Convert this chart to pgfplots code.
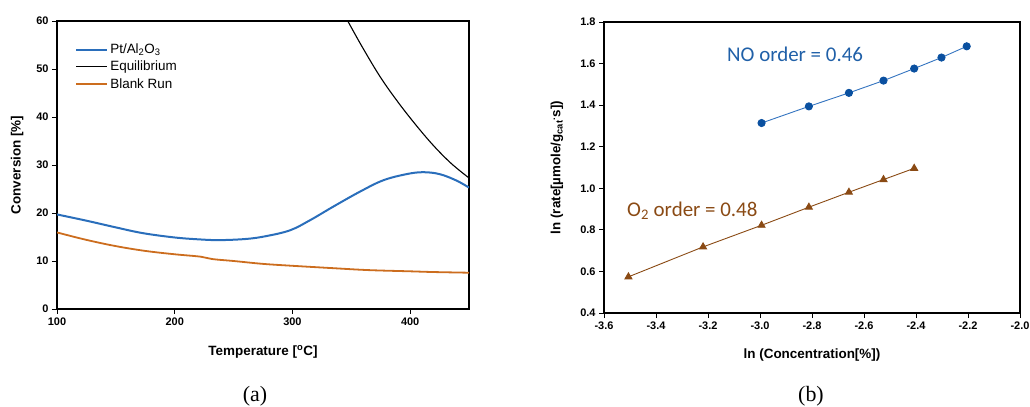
\documentclass[border=0pt]{standalone}
\usepackage{pgfplots}
\pgfplotsset{compat=1.18}
\usepackage{fontspec}
\setmainfont{Liberation Sans}
\newfontfamily\calfont{Carlito}
\newfontfamily\serfont{Liberation Serif}

\definecolor{cBlue}{HTML}{2A6EBB}
\definecolor{cOrange}{HTML}{CC6D1E}
\definecolor{cNOmark}{HTML}{0A50A0}
\definecolor{cNOline}{HTML}{3474C0}
\definecolor{cNOtext}{HTML}{2060A8}
\definecolor{cO2}{HTML}{8A4A14}

\pgfplotsset{
  panel/.style={
    scale only axis, axis line style={line width=1.1bp, black},
    tick align=outside, major tick length=5bp, tick style={black, line width=0.8bp},
    xtick pos=bottom, ytick pos=left,
    /pgf/number format/assume math mode=true,
    tick label style={font=\fontsize{11}{13}\selectfont\bfseries},
    label style={font=\fontsize{13.5}{15}\selectfont\bfseries},
  }
}

\begin{document}
\begin{tikzpicture}
\useasboundingbox (0bp,0bp) rectangle (1030bp,407bp);

% (a) conversion vs temperature
\begin{axis}[panel, at={(57bp,98bp)}, anchor=south west, width=412bp, height=288bp,
  xmin=100, xmax=450, ymin=0, ymax=60,
  xtick={100,200,300,400}, ytick={0,10,...,60},
  xlabel={Temperature [\textsuperscript{o}C]}, ylabel={Conversion [\%]},
  xlabel style={at={(axis description cs:0.5,-0.149)}, anchor=center},
  ylabel style={at={(axis description cs:-0.097,0.5)}, anchor=center},
  legend style={at={(axis description cs:0.044,0.928)}, anchor=north west, draw=none, fill=none,
    font=\fontsize{13.5}{15}\selectfont, row sep=2bp, inner sep=0pt},
  legend cell align=left,
  legend image code/.code={\draw[#1] (0bp,0bp) -- (31bp,0bp);},
]
\addplot[cBlue, line width=2bp, smooth, tension=0.6] coordinates {
  (100,19.7) (125,18.4) (150,17.0) (173,15.8) (200,14.9) (221,14.5) (238,14.35)
  (261,14.6) (278,15.2) (298,16.4) (315,18.5) (334.5,21.3) (357,24.4) (377,26.8)
  (397,28.1) (411,28.5) (425,28.1) (439,26.8) (450,25.3)};
\addplot[black, line width=1.1bp, smooth, tension=0.6] coordinates {
  (340,63.2) (347,60) (360,54.3) (375,48.2) (390,43.0) (405,38.3) (420,34.0)
  (435,30.3) (450,27.3)};
\addplot[cOrange, line width=1.8bp, smooth, tension=0.6] coordinates {
  (100,15.95) (125,14.4) (150,13.1) (175,12.1) (200,11.4) (222,10.9) (232,10.4)
  (250,10.0) (275,9.4) (300,9.0) (335,8.5) (365,8.1) (400,7.85) (420,7.7) (450,7.56)};
\legend{Pt/Al\textsubscript{2}O\textsubscript{3}, Equilibrium, Blank Run}
\end{axis}

% (b) reaction orders
\begin{axis}[panel, at={(604bp,94bp)}, anchor=south west, width=416bp, height=291bp,
  xmin=-3.6, xmax=-2.0, ymin=0.4, ymax=1.8,
  xtick={-3.6,-3.4,...,-2.0}, ytick={0.4,0.6,...,1.8},
  xticklabel style={/pgf/number format/.cd, fixed, fixed zerofill, precision=1},
  yticklabel style={/pgf/number format/.cd, fixed, fixed zerofill, precision=1},
  xlabel={ln (Concentration[\%])},
  ylabel={ln (rate[µmole/g\textsubscript{cat}\textsuperscript{.}s])},
  xlabel style={at={(axis description cs:0.5,-0.144)}, anchor=center},
  ylabel style={at={(axis description cs:-0.113,0.5)}, anchor=center, font=\fontsize{13.4}{15}\selectfont\bfseries},
]
\addplot[cNOline, line width=0.9bp, mark=*, mark size=3.6bp,
  mark options={fill=cNOmark, draw=cNOmark}] coordinates {
  (-2.994,1.314) (-2.812,1.394) (-2.658,1.459) (-2.525,1.518) (-2.407,1.576)
  (-2.302,1.629) (-2.205,1.683)};
\addplot[cO2, line width=0.9bp, mark=triangle*, mark size=4bp,
  mark options={fill=cO2, draw=cO2}] coordinates {
  (-3.506,0.574) (-3.219,0.718) (-2.994,0.822) (-2.812,0.909) (-2.658,0.981)
  (-2.525,1.042) (-2.407,1.096)};
\node[anchor=west, inner sep=0pt, text=cNOtext, font=\calfont\fontsize{21}{24}\selectfont]
  at (axis cs:-3.127,1.645) {NO order = 0.46};
\node[anchor=west, inner sep=0pt, text=cO2, font=\calfont\fontsize{21}{24}\selectfont]
  at (axis cs:-3.5115,0.890) {O\textsubscript{2} order = 0.48};
\end{axis}

\node[font=\serfont\fontsize{22}{24}\selectfont] at (255bp,11bp) {(a)};
\node[font=\serfont\fontsize{22}{24}\selectfont] at (811bp,11bp) {(b)};
\end{tikzpicture}
\end{document}
